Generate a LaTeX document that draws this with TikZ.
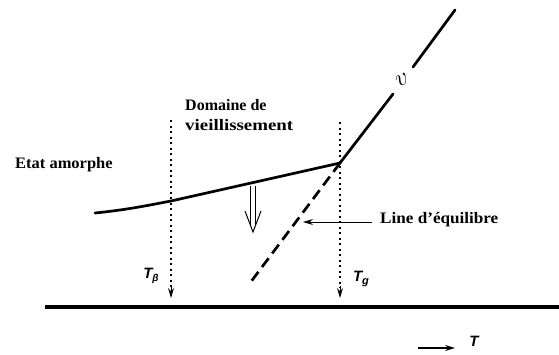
\documentclass[tikz,border=0pt]{standalone}
\usepackage{fontspec}
\setmainfont{Liberation Serif}
\newfontfamily\lsans{Liberation Sans}
\usetikzlibrary{arrows.meta,calc}
\tikzset{
  lbl/.style={font=\fontsize{16}{18}\selectfont\bfseries, inner sep=0pt, anchor=west},
  tlbl/.style={font=\lsans\bfseries\itshape\fontsize{15}{17}\selectfont, inner sep=0pt},
  thick3/.style={line width=2.7pt, line cap=round},
  guide/.style={line width=1.1pt, dash pattern=on 2pt off 3.5pt},
  tip/.style={-{Stealth[length=10pt,width=6pt]}},
}
\begin{document}
\begin{tikzpicture}[x=1pt,y=-1pt]
\useasboundingbox (0,0) rectangle (559,354);
% key points
\coordinate (start) at (95,213);
\coordinate (beta) at (171,201);
\coordinate (junc) at (340,163);
\coordinate (gapA) at (393,94);
\coordinate (gapB) at (413,67);
\coordinate (top) at (455,10);
\coordinate (dashEnd) at (250,283);
% curve (amorphous state)
\draw[thick3] (start) .. controls (125,210) and (145,206) .. (beta) -- (junc);
% upper line
\draw[thick3] (junc) -- (gapA);
\draw[thick3] (gapB) -- (top);
\node[font=\fontsize{24}{24}\selectfont, rotate=25] (v) at (402,80) {$v$};
% equilibrium dashed line
\draw[line width=2.7pt, dash pattern=on 11pt off 6pt] (junc) -- (dashEnd);
% guide lines
\coordinate (btop) at (171,120);
\coordinate (bbot) at (171,298);
\coordinate (gtop) at (340,122);
\coordinate (gbot) at (340,298);
\draw[guide] (btop) -- ($(bbot)+(0,-10)$);
\draw[guide] (gtop) -- ($(gbot)+(0,-10)$);
\draw[tip, line width=1pt] ($(bbot)+(0,-12)$) -- (bbot);
\draw[tip, line width=1pt] ($(gbot)+(0,-12)$) -- (gbot);
\node[tlbl] (tb) at (151,276) {T\raisebox{-0.4ex}{\fontsize{10}{10}\selectfont β}};
\node[tlbl] (tg) at (361,279) {T\raisebox{-0.4ex}{\fontsize{11}{11}\selectfont g}};
% axis
\coordinate (ax0) at (45,307);
\coordinate (ax1) at (559,307);
\draw[line width=3.4pt] (ax0) -- (ax1);
% T arrow
\coordinate (t0) at (418,348);
\coordinate (t1) at (455,348);
\draw[tip, line width=1.2pt] (t0) -- (t1);
\node[tlbl] (T) at (474,341) {T};
% hollow aging arrow
\draw[line width=1pt] (250.5,186) -- (250.5,226) (255.5,186) -- (255.5,226);
\draw[line width=1pt] (245,211) -- (253,232) -- (261,211);
% equilibrium line pointer
\node[lbl] (eq) at (380,220) {\scalebox{1.07}[1]{Line d'équilibre}};
\coordinate (eqt) at (303,222);
\draw[tip, line width=1pt] (372,222) -- (eqt);
% texts
\node[lbl] (etat) at (15,165) {\scalebox{1.03}[1]{Etat amorphe}};
\node[lbl] (dom1) at (185,105) {Domaine de};
\node[lbl] (dom2) at (185,125) {\scalebox{1.18}[1]{vieillissement}};
\end{tikzpicture}
\end{document}
